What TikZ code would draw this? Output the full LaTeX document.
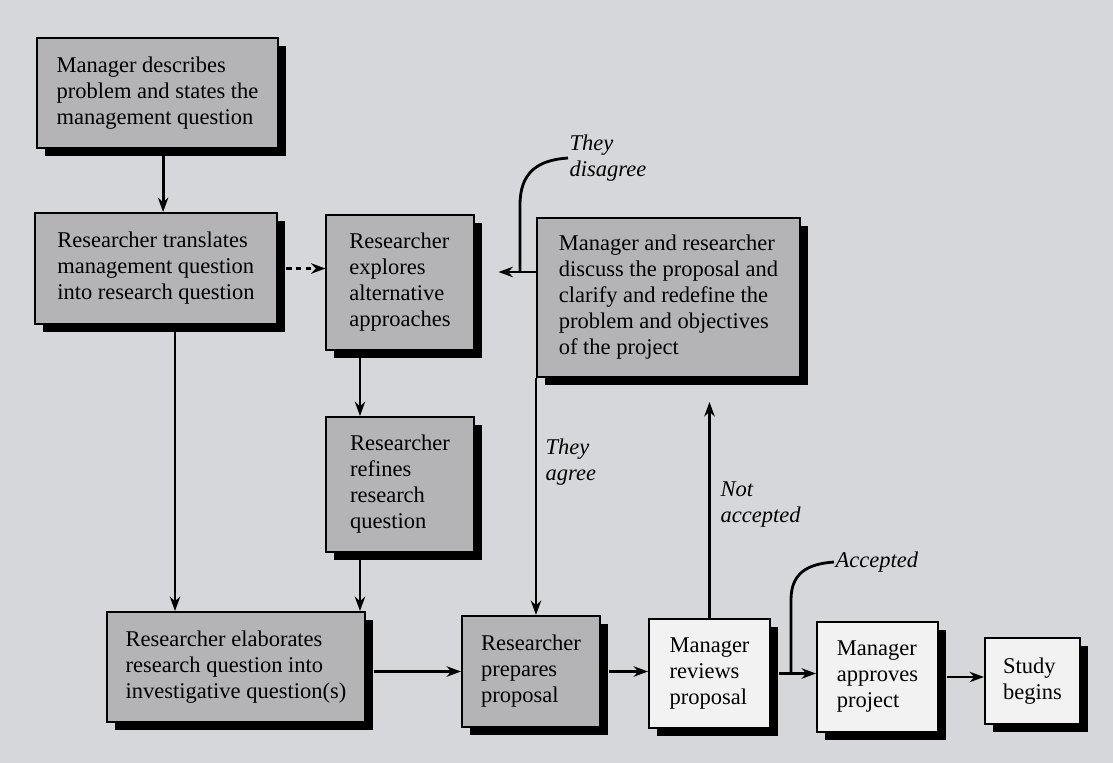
\documentclass[tikz,border=0pt]{standalone}
\usepackage{fontspec}
\setmainfont{Liberation Serif}
\usetikzlibrary{arrows.meta, positioning, shadows}

\definecolor{scanbg}{RGB}{214,215,218}
\definecolor{boxgrey}{RGB}{180,180,182}
\definecolor{boxwhite}{RGB}{242,242,242}

\begin{document}
\begin{tikzpicture}[
  x=0.025cm, y=-0.025cm,
  font=\fontsize{16}{18.5}\selectfont,
  box/.style={draw, line width=1.4pt, align=left, inner sep=0pt, fill=boxgrey,
    drop shadow={shadow xshift=0.2cm, shadow yshift=-0.2cm, fill=black, opacity=1}},
  wbox/.style={box, fill=boxwhite},
  lbl/.style={font=\fontsize{16}{18.5}\selectfont\itshape, align=left, inner sep=1pt},
  arrow/.style={-{Stealth[length=3.6mm, width=2.6mm]}, line width=2pt},
  dasharrow/.style={arrow, dash pattern=on 4pt off 3pt},
  link/.style={line width=2pt}
]
\fill[scanbg] (0,0) rectangle (1113,763);
\useasboundingbox (0,0) rectangle (1113,763);

% grey boxes
\node[box, minimum width=6.025cm, minimum height=2.75cm] (desc) at (157.5,93) {Manager describes\\problem and states the\\management question};
\node[box, minimum width=6.05cm, minimum height=2.775cm] (transl) at (156,268.5) {Researcher translates\\management question\\into research question};
\node[box, minimum width=3.675cm, minimum height=3.375cm] (explore) at (400,282.5) {Researcher\\explores\\alternative\\approaches};
\node[box, minimum width=6.575cm, minimum height=3.975cm] (discuss) at (668.5,297.5) {Manager and researcher\\discuss the proposal and\\clarify and redefine the\\problem and objectives\\of the project};
\node[box, minimum width=3.7cm, minimum height=3.375cm] (refine) at (400,484.5) {Researcher\\refines\\research\\question};
\node[box, minimum width=6.45cm, minimum height=2.75cm] (elab) at (236,667) {Researcher elaborates\\research question into\\investigative question(s)};
\node[box, minimum width=3.45cm, minimum height=2.775cm] (prep) at (531,671.5) {Researcher\\prepares\\proposal};

% white boxes
\node[wbox, minimum width=3.025cm, minimum height=2.725cm] (review) at (709.5,673.5) {Manager\\reviews\\proposal};
\node[wbox, minimum width=3.025cm, minimum height=2.75cm] (approve) at (877.5,677) {Manager\\approves\\project};
\node[wbox, minimum width=2.375cm, minimum height=2.15cm] (study) at (1032.5,681) {Study\\begins};

% labels
\node[lbl, anchor=west] (tdl) at (568,158) {They\\disagree};
\node[lbl, anchor=west] (tal) at (544,462) {They\\agree};
\node[lbl, anchor=west] (nal) at (719,505) {Not\\accepted};
\node[lbl, anchor=west] (acl) at (834,562) {Accepted};

\coordinate (dis) at (520,272);
\coordinate (acj) at (791,673.5);

% connectors
\draw[arrow] ([xshift=0.14cm]desc.south) -- ([xshift=0.14cm]desc.south |- transl.north);
\draw[arrow] ([xshift=0.475cm]transl.south) -- ([xshift=0.475cm]transl.south |- elab.north);
\draw[dasharrow] ([xshift=0.2cm]transl.east) -- (transl.east -| explore.west);
\draw[arrow] ([xshift=-1cm]explore.south) -- ([xshift=-1cm]explore.south |- refine.north);
\draw[arrow] ([xshift=-1cm]refine.south) -- ([xshift=-1cm]refine.south |- elab.north);
\draw[arrow] ([xshift=0.2cm]elab.east |- prep.west) -- (prep.west);
\draw[arrow] (discuss.west |- dis) -- ([xshift=0.6cm]explore.east |- dis);
\draw[link] (dis) -- (520,205) .. controls (520,172) and (538,160) .. (tdl.west);
\draw[arrow] (discuss.south west) -- (discuss.south west |- prep.north);
\draw[arrow] ([xshift=0.2cm]prep.east) -- (prep.east -| review.west);
\draw[arrow] (review.north) -- ([yshift=-0.6cm]review.north |- discuss.south);
\draw[arrow] ([xshift=0.2cm]review.east) -- (review.east -| approve.west);
\draw[link] (acj) -- (791,600) .. controls (791,574) and (806,564) .. (acl.west);
\draw[arrow] ([xshift=0.2cm]approve.east) -- (approve.east -| study.west);
\end{tikzpicture}
\end{document}
